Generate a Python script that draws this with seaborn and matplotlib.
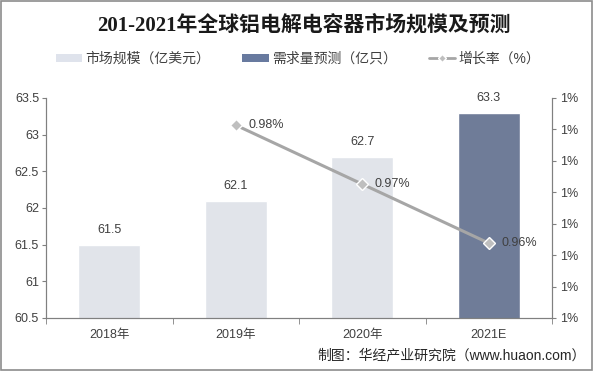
import matplotlib
matplotlib.use('Agg')
import matplotlib.pyplot as plt
from matplotlib.lines import Line2D
from matplotlib.patches import Patch, Rectangle
from matplotlib.ticker import FixedLocator, FuncFormatter
import numpy as np
import pandas as pd
import seaborn as sns

# data
years = ['2018年', '2019年', '2020年', '2021E']
values = [61.5, 62.1, 62.7, 63.3]
series = ['市场规模（亿美元）', '市场规模（亿美元）', '市场规模（亿美元）', '需求量预测（亿只）']
growth_years = ['2019年', '2020年', '2021E']
growth = [0.0098, 0.0097, 0.0096]
growth_labels = ['0.98%', '0.97%', '0.96%']

light = '#dfe3ec'
dark = '#687a9f'
line_c = '#a6a6a6'
txt = '#404040'

sns.set_style('white')
plt.rcParams['font.family'] = ['Liberation Sans', 'Noto Sans CJK SC', 'DejaVu Sans']
plt.rcParams['axes.unicode_minus'] = False

df = pd.DataFrame({'year': years, 'value': values, 'series': series})

fig = plt.figure(figsize=(5.95, 3.74), dpi=100)
ax = fig.add_axes([46/595, 1 - 318/374, (552-46)/595, (318-98)/374])

sns.barplot(data=df, x='year', y='value', hue='series', dodge=False, width=0.49,
            palette={series[0]: light, series[-1]: dark}, ax=ax, legend=False)
ax.set_ylim(60.5, 63.5)
ax.set_xlim(-0.5, 3.5)
ax.set_yticks(np.arange(60.5, 63.51, 0.5))
ax.yaxis.set_major_formatter(FuncFormatter(lambda v, p: f'{v:g}'))
ax.set_xlabel('')
ax.set_ylabel('')
ax.tick_params(axis='y', length=3, color='#808080', labelsize=9, labelcolor=txt, pad=2, left=True)
ax.tick_params(axis='x', length=0, labelsize=9, labelcolor=txt, pad=8)
ax.xaxis.set_minor_locator(FixedLocator(np.arange(-0.5, 3.6, 1)))
ax.tick_params(axis='x', which='minor', length=4, color='#808080', bottom=True)
for s in ['left', 'bottom', 'right']:
    ax.spines[s].set_color('#808080')
    ax.spines[s].set_linewidth(0.8)
ax.spines['top'].set_visible(False)

for i, v in enumerate(values):
    ax.annotate(f'{v}', (i, v), xytext=(0, 6), textcoords='offset points',
                ha='center', va='bottom', fontsize=9, color=txt)

ax2 = ax.twinx()
gx = [years.index(y) for y in growth_years]
sns.lineplot(x=gx, y=growth, ax=ax2, color=line_c, linewidth=2.2, marker='D',
             markersize=6.5, markerfacecolor='#bfbfbf', markeredgecolor='white',
             markeredgewidth=1.0)
ax2.set_ylim(0.009473, 0.009846)
ax2.set_yticks(np.linspace(0.009473, 0.009846, 8))
ax2.yaxis.set_major_formatter(FuncFormatter(lambda v, p: f'{v*100:.0f}%'))
ax2.tick_params(axis='y', length=3, color='#808080', labelsize=9, labelcolor=txt, pad=3, right=True)
for s in ['left', 'bottom', 'right']:
    ax2.spines[s].set_color('#808080')
    ax2.spines[s].set_linewidth(0.8)
ax2.spines['top'].set_visible(False)
ax2.set_xlim(-0.5, 3.5)

for x, g, lab in zip(gx, growth, growth_labels):
    ax2.annotate(lab, (x, g), xytext=(9, 0), textcoords='offset points',
                 ha='left', va='center', fontsize=9, color=txt)

fig.text(304/595, 1 - 25/374, '201-2021年全球铝电解电容器市场规模及预测', ha='center', va='center',
         fontsize=15, fontweight='bold', color='#1a1a1a',
         family=['Liberation Serif', 'Noto Sans CJK SC'])

handles = [Patch(facecolor=light, edgecolor='none'),
           Patch(facecolor=dark, edgecolor='none'),
           Line2D([0], [0], color=line_c, linewidth=2, marker='D', markersize=4,
                  markerfacecolor='#bfbfbf', markeredgecolor='white')]
labels = ['市场规模（亿美元）', '需求量预测（亿只）', '增长率（%）']
fig.legend(handles, labels, loc='center', bbox_to_anchor=(298/595, 1 - 59/374), ncol=3,
           frameon=False, fontsize=10, handlelength=1.9, handleheight=0.55,
           columnspacing=2.3, handletextpad=0.25, labelcolor=txt)

fig.text(586/595, 1 - 355/374, '制图：华经产业研究院（www.huaon.com）', ha='right', va='center',
         fontsize=10, color='#262626')

fig.patches.append(Rectangle((1/595, 1 - 370/374), 591/595, 369/374, transform=fig.transFigure,
                             fill=False, edgecolor='#8c8c8c', linewidth=1.2))

fig.savefig('out.png', dpi=100)
